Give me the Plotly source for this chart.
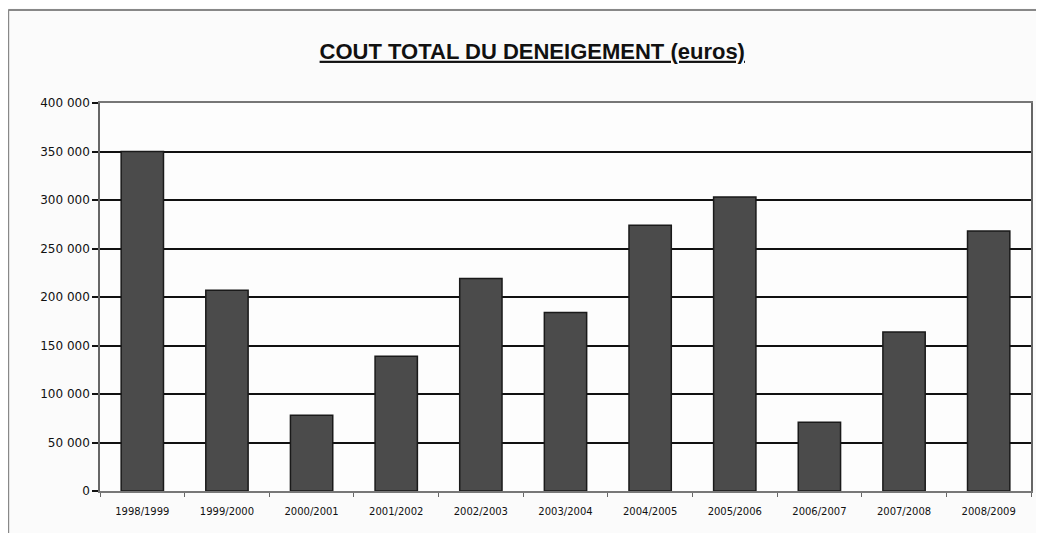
import plotly.graph_objects as go

categories = ["1998/1999", "1999/2000", "2000/2001", "2001/2002", "2002/2003", "2003/2004",
              "2004/2005", "2005/2006", "2006/2007", "2007/2008", "2008/2009"]
costs = [350000, 207000, 78000, 139000, 219000, 184000, 274000, 303000, 71000, 164000, 268000]
y_ticks = [0, 50000, 100000, 150000, 200000, 250000, 300000, 350000, 400000]
title_text = "COUT TOTAL DU DENEIGEMENT (euros)"

fig = go.Figure()
fig.add_trace(go.Bar(
    x=categories, y=costs,
    marker=dict(color="#4b4b4b", line=dict(color="#1a1a1a", width=1.5)),
    width=0.5,
))

fig.update_layout(
    width=1028, height=525,
    margin=dict(l=92, r=3, t=95, b=42),
    paper_bgcolor="#fbfbfb",
    plot_bgcolor="#fdfdfd",
    separators=", ",
    showlegend=False,
    font=dict(family="Liberation Sans, Arial, sans-serif", color="#222"),
    title=dict(text="<b><u>" + title_text + "</u></b>", x=0.51, xanchor="center",
               y=0.918, yanchor="middle",
               font=dict(size=22, color="#111", family="Liberation Sans, Arial, sans-serif")),
    xaxis=dict(
        type="category", showline=True, linecolor="#777", linewidth=1.5, mirror=True,
        ticks="outside", tickson="boundaries", ticklen=4, tickcolor="#666",
        ticklabelstandoff=10,
        tickfont=dict(size=10, color="#111", family="DejaVu Sans, sans-serif"), showgrid=False,
    ),
    yaxis=dict(
        range=[0, 400000], tickvals=y_ticks, tickformat=",d",
        showline=True, linecolor="#666", linewidth=1.5, mirror=True,
        ticks="outside", ticklen=6, tickcolor="#111", tickwidth=1.5,
        showgrid=True, gridcolor="#111", gridwidth=2,
        tickfont=dict(size=12, color="#111", family="DejaVu Sans, sans-serif"), zeroline=False,
    ),
    shapes=[
        dict(type="line", xref="paper", yref="paper", x0=-0.0986, x1=1.02, y0=1.2397, y1=1.2397,
             line=dict(color="#888", width=2)),
        dict(type="line", xref="paper", yref="paper", x0=-0.0986, x1=-0.0986, y0=1.2397, y1=-0.2,
             line=dict(color="#888", width=2)),
    ],
)

fig.write_html("out.html")
